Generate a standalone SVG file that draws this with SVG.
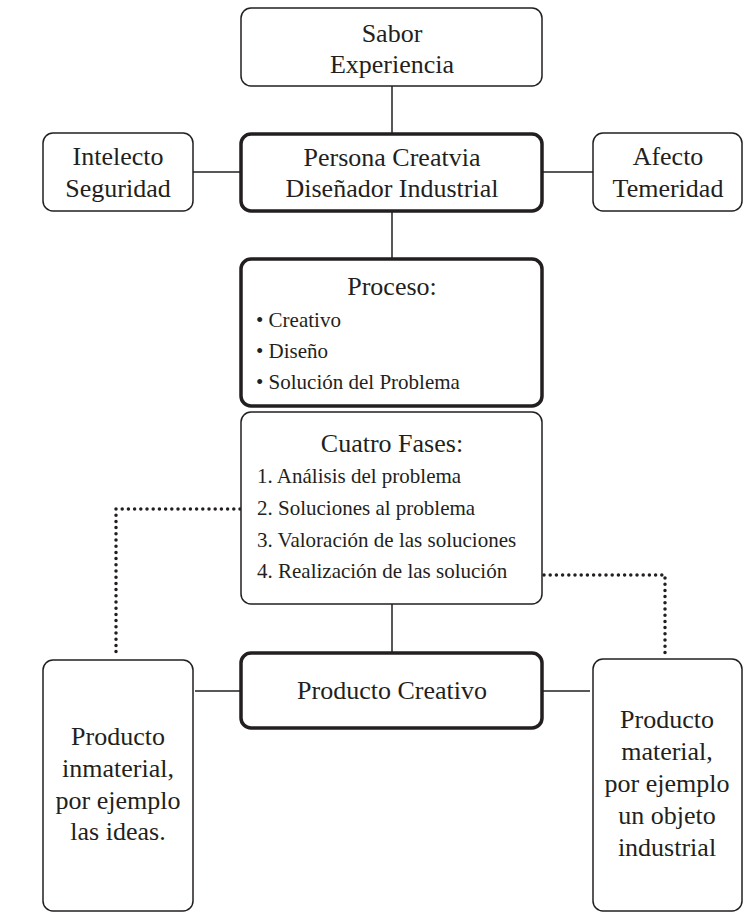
<svg xmlns="http://www.w3.org/2000/svg" width="745" height="912" viewBox="0 0 745 912">
<style>
.box{fill:#fff;stroke:#231f20;stroke-width:1.5}
.thick{fill:#fff;stroke:#231f20;stroke-width:3.5}
.t{font-size:26px;fill:#231f20;text-anchor:middle}
.s{font-size:21px;fill:#231f20}
.ln{stroke:#231f20;stroke-width:1.5;fill:none}
.dot{stroke:#231f20;stroke-width:3.5;fill:none;stroke-dasharray:0 6.2;stroke-linecap:round}
</style>
<rect width="745" height="912" fill="#fff"/>
<g id="connectors">
<line class="ln" x1="392" y1="86" x2="392" y2="133"/>
<line class="ln" x1="193" y1="172" x2="241" y2="172"/>
<line class="ln" x1="543" y1="172" x2="593" y2="172"/>
<line class="ln" x1="392" y1="212" x2="392" y2="258"/>
<line class="ln" x1="392" y1="604" x2="392" y2="652"/>
<line class="ln" x1="195" y1="691" x2="241" y2="691"/>
<line class="ln" x1="543" y1="691" x2="590" y2="691"/>
<polyline class="dot" points="240,509 116,509 116,656"/>
<polyline class="dot" points="544,575 665,575 665,657"/>
</g>
<g font-family="Liberation Serif, Tinos, Times New Roman, DejaVu Serif, serif">
<g id="sabor">
<rect class="box" x="241" y="8" width="301" height="78" rx="10"/>
<text class="t" x="392" y="42">Sabor</text>
<text class="t" x="392" y="73">Experiencia</text>
</g>
<g id="intelecto">
<rect class="box" x="43" y="133" width="150" height="78" rx="10"/>
<text class="t" x="118" y="165">Intelecto</text>
<text class="t" x="118" y="197">Seguridad</text>
</g>
<g id="afecto">
<rect class="box" x="593" y="133" width="149" height="78" rx="10"/>
<text class="t" x="668" y="165">Afecto</text>
<text class="t" x="668" y="197">Temeridad</text>
</g>
<g id="persona">
<rect class="thick" x="241" y="134" width="301" height="77" rx="10"/>
<text class="t" x="392" y="166">Persona Creatvia</text>
<text class="t" x="392" y="197">Diseñador Industrial</text>
</g>
<g id="proceso">
<rect class="thick" x="241" y="259" width="301" height="147" rx="10"/>
<text class="t" x="392" y="295">Proceso:</text>
<text class="s" x="256" y="327">• Creativo</text>
<text class="s" x="256" y="358">• Diseño</text>
<text class="s" x="256" y="389">• Solución del Problema</text>
</g>
<g id="fases">
<rect class="box" x="241" y="412" width="301" height="192" rx="10"/>
<text class="t" x="392" y="452">Cuatro Fases:</text>
<text class="s" x="257" y="483">1. Análisis del problema</text>
<text class="s" x="257" y="515">2. Soluciones al problema</text>
<text class="s" x="257" y="547">3. Valoración de las soluciones</text>
<text class="s" x="257" y="578">4. Realización de las solución</text>
</g>
<g id="producto">
<rect class="thick" x="241" y="653" width="301" height="75" rx="10"/>
<text class="t" x="392" y="699">Producto Creativo</text>
</g>
<g id="inmaterial">
<rect class="box" x="43" y="660" width="150" height="251" rx="10"/>
<text class="t" x="118" y="745">Producto</text>
<text class="t" x="118" y="777">inmaterial,</text>
<text class="t" x="118" y="809">por ejemplo</text>
<text class="t" x="118" y="840">las ideas.</text>
</g>
<g id="material">
<rect class="box" x="593" y="659" width="149" height="252" rx="10"/>
<text class="t" x="667" y="728">Producto</text>
<text class="t" x="667" y="760">material,</text>
<text class="t" x="667" y="792">por ejemplo</text>
<text class="t" x="667" y="824">un objeto</text>
<text class="t" x="667" y="856">industrial</text>
</g>
</g>
</svg>
